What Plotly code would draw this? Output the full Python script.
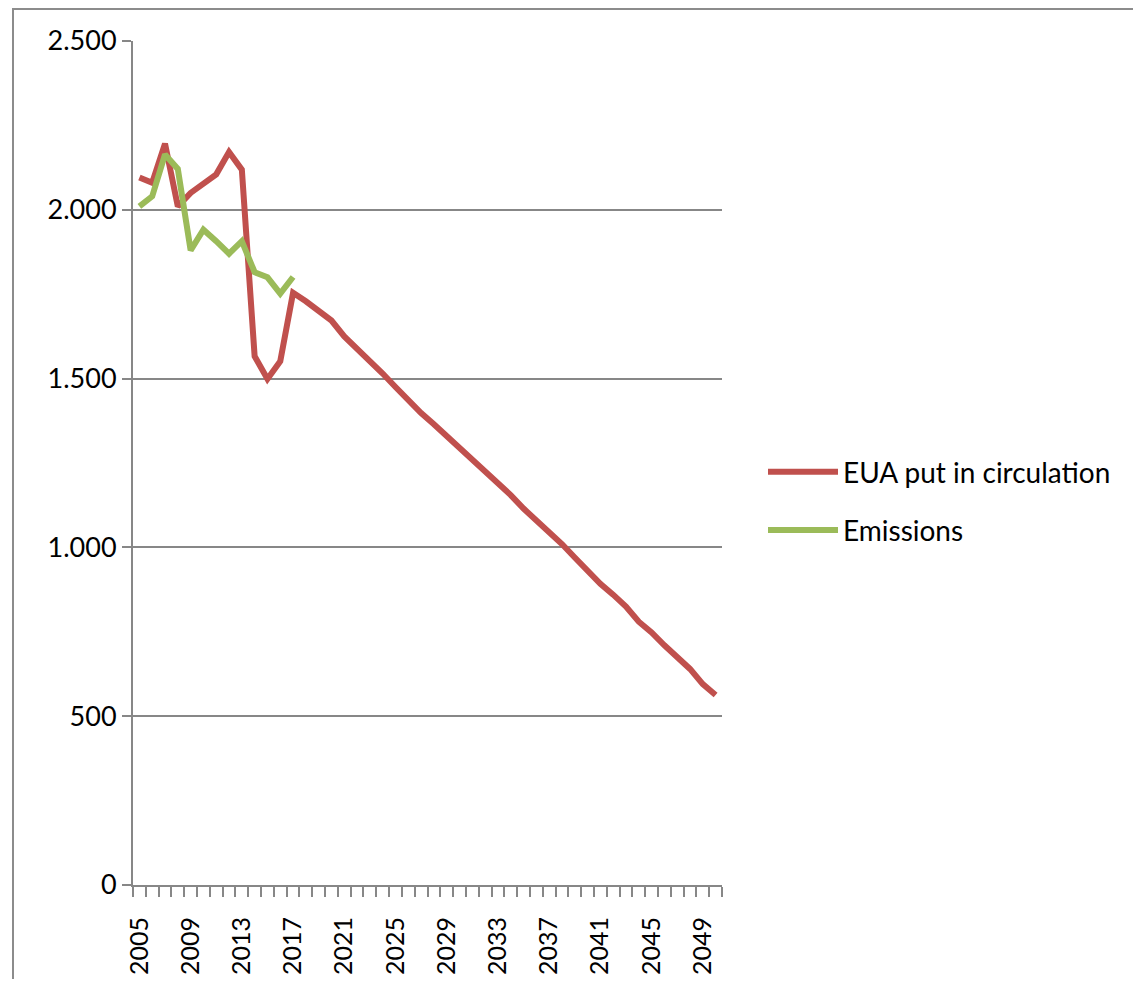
import plotly.graph_objects as go

years = list(range(2005, 2051))
eua = [2096, 2080, 2196, 2010, 2050, 2080, 2105, 2171, 2119, 1566, 1499, 1551, 1754,
       1729, 1699, 1672, 1625, 1590, 1556, 1515, 1475, 1435, 1398, 1365, 1330, 1295,
       1262, 1230, 1195, 1155, 1115, 1080, 1048, 1010, 970, 930, 892, 860, 825, 780,
       748, 710, 677, 640, 595, 563]
em_years = list(range(2005, 2018))
emissions = [2010, 2040, 2164, 2121, 1880, 1941, 1907, 1870, 1907, 1815, 1800, 1752, 1801]
xtick_years = list(range(2005, 2051, 4))

FONT = "Lato"
FS = 28
GRAY = "#878787"
OFF = 8                     # page body margin
W, H = 1141 - 2 * OFF, 987 - 2 * OFF
# plot area in page pixels
L, R, T, B = 133, 722, 41, 885

def px(xp):
    return (xp - L) / (R - L)

def py(yp):
    return (B - yp) / (B - T)

fig = go.Figure()
fig.add_trace(go.Scatter(x=years, y=eua, mode="lines", name="EUA put in circulation",
                         line=dict(color="#C0504D", width=6), legendgroup="a"))
fig.add_trace(go.Scatter(x=em_years, y=emissions, mode="lines", name="Emissions",
                         line=dict(color="#9BBB59", width=6), legendgroup="b"))

fig.update_layout(
    width=W, height=H, autosize=False,
    margin=dict(l=L - OFF, r=(W + OFF) - R, t=T - OFF, b=(H + OFF) - B, pad=0),
    paper_bgcolor="white", plot_bgcolor="white",
    separators=",.",
    font=dict(family=FONT, size=FS, color="black"),
    showlegend=True,
    legend=dict(x=px(763), y=py(501), xanchor="left", yanchor="middle",
                font=dict(family=FONT, size=FS), tracegroupgap=19,
                itemwidth=70, bgcolor="rgba(0,0,0,0)"),
    xaxis=dict(range=[2004.5, 2050.5], tickmode="array", tickvals=xtick_years,
               ticktext=[str(y) for y in xtick_years], tickangle=-90,
               ticks="", showgrid=False, zeroline=False, automargin=False,
               showline=True, linecolor=GRAY, linewidth=2,
               minor=dict(ticks="outside", tick0=2004.5, dtick=1, ticklen=10,
                          tickcolor=GRAY, tickwidth=2, showgrid=False),
               ticklabelstandoff=20,
               tickfont=dict(family=FONT, size=25)),
    yaxis=dict(range=[0, 2500], dtick=500, tickformat=",d", automargin=False,
               ticks="outside", ticklen=9, tickcolor=GRAY, tickwidth=2,
               showgrid=True, gridcolor=GRAY, gridwidth=2, zeroline=False,
               showline=True, linecolor=GRAY, linewidth=2,
               tickfont=dict(family=FONT, size=27)),
)

fig.add_shape(type="rect", xref="paper", yref="paper",
              x0=px(13), x1=px(1160), y0=py(9), y1=py(1010),
              line=dict(color="#8c8c8c", width=2), fillcolor="rgba(0,0,0,0)", layer="below")

fig.write_html("out.html")
